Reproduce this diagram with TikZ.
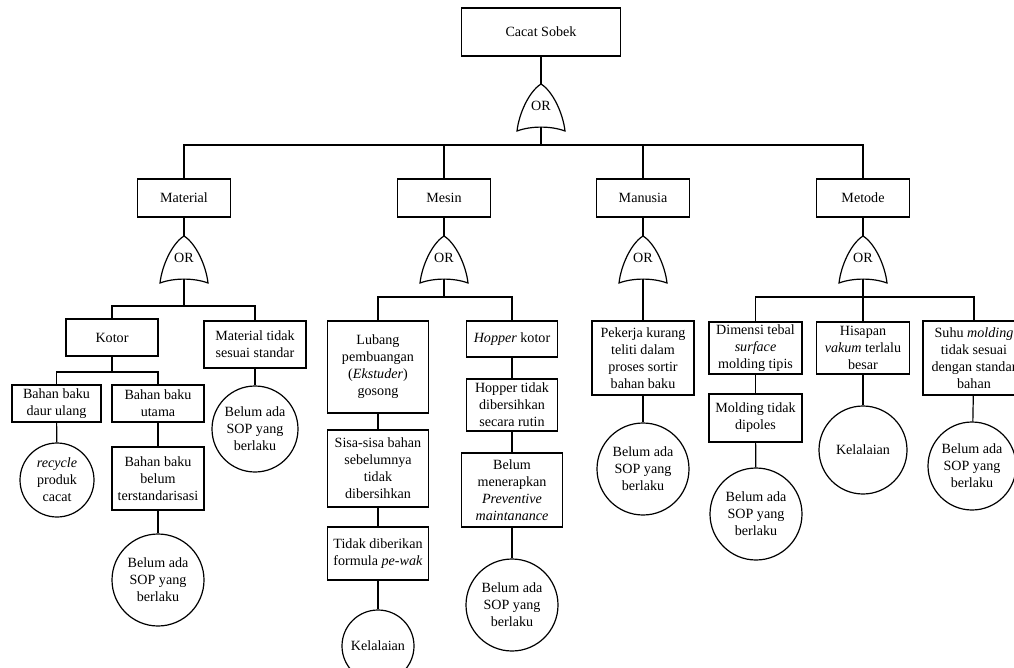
\documentclass[tikz,border=0pt]{standalone}
\usepackage{fontspec}
\setmainfont{Liberation Serif}
\usepackage{tikz}
\usetikzlibrary{positioning}

\tikzset{
	ev/.style={draw,rectangle,align=center,inner sep=1pt,line width=1.2pt,
		font=\fontsize{14.1}{17}\selectfont},
	evh/.style={ev,line width=1.8pt},
	basic/.style={draw,circle,align=center,inner sep=0pt,line width=1.2pt,
		font=\fontsize{14.1}{17}\selectfont},
	gatenode/.style={rectangle,inner sep=0pt,minimum width=48pt,minimum height=43pt,
		font=\fontsize{14.1}{17}\selectfont},
	link/.style={line width=1.2pt}
}
% OR gate: name, x, y of its middle
\newcommand{\orgate}[3]{%
	\node[gatenode] (#1) at (#2,#3) {OR};
	\draw[link,shift={(#2,#3)}] (-24,25.5) .. controls (-22,8) and (-12,-14) .. (0,-21.5)
		.. controls (12,-14) and (22,8) .. (24,25.5)
		.. controls (10,20.3) and (-10,20.3) .. cycle;
}

\begin{document}
\begin{tikzpicture}[x=1pt,y=-1pt]
	\useasboundingbox (0,0) rectangle (1014,668);
	\clip (0,0) rectangle (1014,668);
	% top event
	\node[ev,minimum width=159pt,minimum height=48pt] (top) at (541,32) {Cacat Sobek};
	\orgate{gtop}{541}{105.5}
	\coordinate (bus0) at (541,145);
	\draw[link] (top) -- (gtop);
	\draw[link] (gtop) -- (bus0);
	% level 1
	\node[ev,minimum width=93pt,minimum height=38pt] (mat) at (184,198) {Material};
	\node[ev,minimum width=93pt,minimum height=38pt] (mes) at (444,198) {Mesin};
	\node[ev,minimum width=93pt,minimum height=38pt] (man) at (643,198) {Manusia};
	\node[ev,minimum width=93pt,minimum height=38pt] (met) at (863,198) {Metode};
	\foreach \c in {mat,mes,man,met}
	  \draw[link] (\c) |- (bus0);
	\orgate{gmat}{184}{257.5}
	\orgate{gmes}{444}{257.5}
	\orgate{gman}{643}{257.5}
	\orgate{gmet}{863}{257.5}
	\foreach \c/\g in {mat/gmat,mes/gmes,man/gman,met/gmet}
	  \draw[link] (\c) -- (\g);

	% Material
	\coordinate (bus1) at (184,306);
	\node[evh,minimum width=92pt,minimum height=37pt] (kot) at (112,337.5) {Kotor};
	\node[ev,minimum width=102pt,minimum height=47pt] (mts) at (255,344.5) {Material tidak\\sesuai standar};
	\draw[link] (gmat) -- (bus1);
	\draw[link] (kot) |- (bus1);
	\draw[link] (mts) |- (bus1);
	\coordinate (bus2) at (112,372);
	\node[ev,minimum width=89pt,minimum height=37pt] (dau) at (56.5,403.5) {Bahan baku\\daur ulang};
	\node[ev,minimum width=92pt,minimum height=37pt] (uta) at (158,403.5) {Bahan baku\\utama};
	\draw[link] (kot) -- (bus2);
	\draw[link] (dau) |- (bus2);
	\draw[link] (uta) |- (bus2);
	\node[basic,minimum size=74pt] (rec) at (57,480) {\textit{recycle}\\produk\\cacat};
	\node[evh,minimum width=92pt,minimum height=63pt] (ter) at (158,478.5) {Bahan baku\\belum\\terstandarisasi};
	\node[basic,minimum size=92pt] (sop1) at (158,580) {Belum ada\\SOP yang\\berlaku};
	\node[basic,minimum size=86pt] (sop2) at (255,429) {Belum ada\\SOP yang\\berlaku};
	\draw[link] (dau) -- (rec);
	\draw[link] (uta) -- (ter);
	\draw[link] (ter) -- (sop1);
	\draw[link] (mts) -- (sop2);

	% Mesin
	\coordinate (bus3) at (444,297);
	\node[evh,minimum width=101pt,minimum height=92pt] (lub) at (378,367) {Lubang\\pembuangan\\(\textit{Ekstuder})\\gosong};
	\node[ev,minimum width=91pt,minimum height=36pt] (hop) at (512,339) {\textit{Hopper} kotor};
	\draw[link] (gmes) -- (bus3);
	\draw[link] (lub) |- (bus3);
	\draw[link] (hop) |- (bus3);
	\node[evh,minimum width=101pt,minimum height=77pt] (sis) at (378,468.5) {Sisa-sisa bahan\\sebelumnya\\tidak\\dibersihkan};
	\node[evh,minimum width=101pt,minimum height=53pt] (tdf) at (378,553.5) {Tidak diberikan\\formula \textit{pe-wak}};
	\node[basic,minimum size=72pt] (kel1) at (378,646) {Kelalaian};
	\node[ev,minimum width=91pt,minimum height=52pt] (hpt) at (512,405) {Hopper tidak\\dibersihkan\\secara rutin};
	\node[ev,minimum width=101pt,minimum height=74pt] (bmp) at (512,490) {Belum\\menerapkan\\\textit{Preventive}\\\textit{maintanance}};
	\node[basic,minimum size=92pt] (sop3) at (512,605) {Belum ada\\SOP yang\\berlaku};
	\draw[link] (lub) -- (sis);
	\draw[link] (sis) -- (tdf);
	\draw[link] (tdf) -- (kel1);
	\draw[link] (hop) -- (hpt);
	\draw[link] (hpt) -- (bmp);
	\draw[link] (bmp) -- (sop3);

	% Manusia
	\node[ev,minimum width=102pt,minimum height=74pt] (pek) at (643,358) {Pekerja kurang\\teliti dalam\\proses sortir\\bahan baku};
	\node[basic,minimum size=92pt] (sop4) at (643,469) {Belum ada\\SOP yang\\berlaku};
	\draw[link] (gman) -- (pek);
	\draw[link] (pek) -- (sop4);

	% Metode
	\coordinate (bus4) at (863,297);
	\node[ev,minimum width=93pt,minimum height=52pt] (dim) at (755.5,348) {Dimensi tebal\\\textit{surface}\\molding tipis};
	\node[ev,minimum width=93pt,minimum height=52pt] (his) at (863,348) {Hisapan\\\textit{vakum} terlalu\\besar};
	\node[ev,minimum width=102pt,minimum height=74pt] (suh) at (974,358) {Suhu \textit{molding}\\tidak sesuai\\dengan standar\\bahan};
	\draw[link] (gmet) -- (bus4);
	\draw[link] (dim) |- (bus4);
	\draw[link] (his) -- (bus4);
	\draw[link] (suh) |- (bus4);
	\node[ev,minimum width=93pt,minimum height=48pt] (mtd) at (755.5,418) {Molding tidak\\dipoles};
	\node[basic,minimum size=92pt] (sop5) at (756,514) {Belum ada\\SOP yang\\berlaku};
	\node[basic,minimum size=88pt] (kel2) at (863,450) {Kelalaian};
	\node[basic,minimum size=88pt] (sop6) at (972,466) {Belum ada\\SOP yang\\berlaku};
	\draw[link] (dim) -- (mtd);
	\draw[link] (mtd) -- (sop5);
	\draw[link] (his) -- (kel2);
	\draw[link] (suh) -- (sop6);
\end{tikzpicture}
\end{document}
